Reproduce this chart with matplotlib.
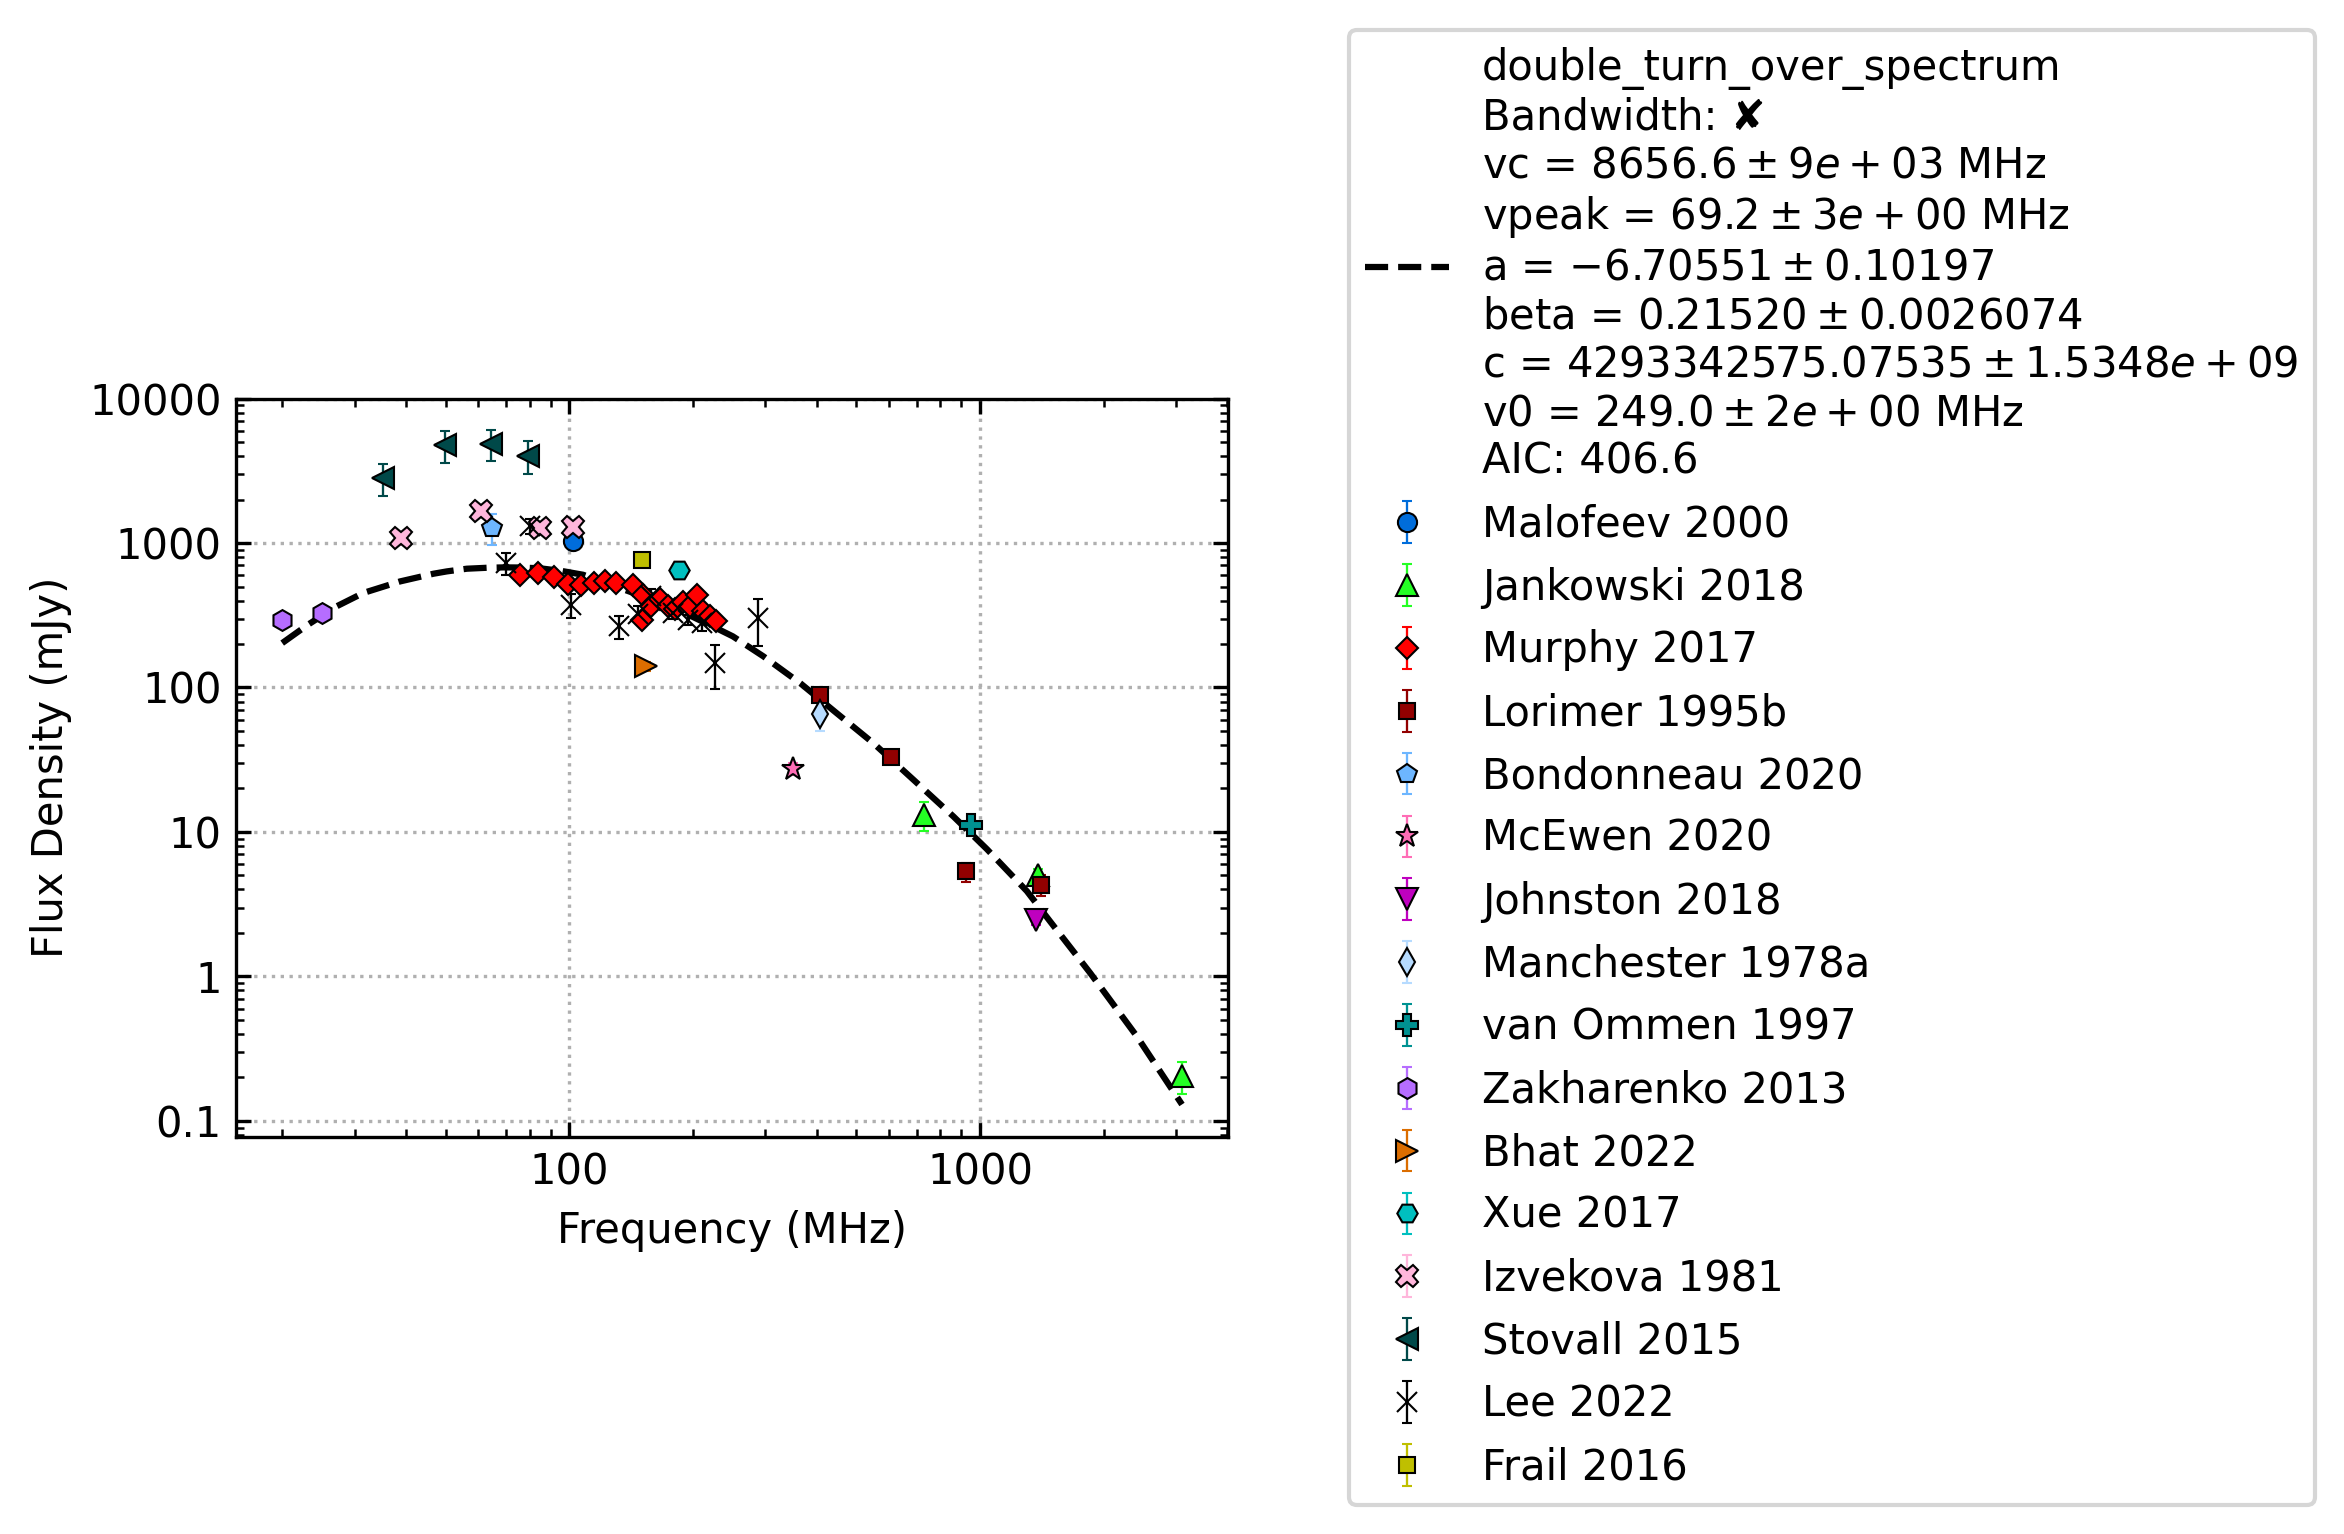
#!/usr/bin/env python3
"""Pulsar spectrum: literature flux densities with a double turn-over fit."""

import matplotlib

matplotlib.use("Agg")

import matplotlib.pyplot as plt
from matplotlib.ticker import FormatStrFormatter, NullFormatter

# flux density measurements: frequency (MHz), flux (mJy), error (mJy)
malofeev_freq = [102]
malofeev_flux = [1040]
malofeev_err = [150]

jankowski_freq = [728, 1382, 3100]
jankowski_flux = [13.1, 5.0, 0.204]
jankowski_err = [3.0, 0.5, 0.05]

murphy_freq = [76, 84, 92, 99, 107, 115, 122, 130, 143, 150, 151, 158, 166, 174,
               181, 189, 197, 204, 212, 220, 227]
murphy_flux = [597, 620, 578, 520, 514, 525, 542, 529, 514, 292, 434, 364, 410, 365,
               348, 390, 364, 440, 336, 312, 288]
murphy_err = [30, 30, 28, 25, 25, 25, 26, 25, 25, 15, 21, 18, 20, 18,
              17, 19, 18, 21, 16, 15, 14]

lorimer_freq = [408, 606, 925, 1408]
lorimer_flux = [89, 32.8, 5.34, 4.32]
lorimer_err = [9, 3, 0.8, 0.7]

bondonneau_freq = [65]
bondonneau_flux = [1280]
bondonneau_err = [310]

mcewen_freq = [350]
mcewen_flux = [27.3]
mcewen_err = [2.5]

johnston_freq = [1369]
johnston_flux = [2.46]
johnston_err = [0.2]

manchester_freq = [408]
manchester_flux = [65.6]
manchester_err = [16]

vanommen_freq = [950]
vanommen_flux = [11.1]
vanommen_err = [1.0]

zakharenko_freq = [20, 25]
zakharenko_flux = [295, 330]
zakharenko_err = [25, 28]

bhat_freq = [154]
bhat_flux = [140]
bhat_err = [10]

xue_freq = [185]
xue_flux = [653]
xue_err = [40]

izvekova_freq = [39, 61, 85, 102]
izvekova_flux = [1076, 1673, 1262, 1282]
izvekova_err = [100, 160, 120, 120]

stovall_freq = [35.1, 49.8, 64.5, 79.2]
stovall_flux = [2830, 4740, 4870, 4020]
stovall_err = [720, 1180, 1150, 1030]

lee_freq = [70, 80, 101, 132, 147, 158, 179, 195, 210, 226, 288]
lee_flux = [727, 1310, 374, 265, 325, 430, 330, 295, 278, 148, 303]
lee_err = [125, 160, 70, 47, 40, 47, 30, 25, 30, 50, 110]

frail_freq = [150]
frail_flux = [766]
frail_err = [70]

# fitted model curve
fit_freq = [20, 23.1, 27.1, 31.5, 38.7, 46.7, 50.3, 56.3, 63, 69, 76, 85, 96, 108,
            150, 190, 232, 250, 297, 365, 447, 549, 688, 861, 1039, 1299, 1481,
            1853, 2407, 3100]
fit_flux = [203, 272, 364, 451, 542, 613, 636, 664, 674, 678, 677, 668, 640, 603,
            430, 330, 251, 226, 164, 107, 66.6, 41.3, 23, 12.8, 7.6, 3.9, 2.4,
            1.057, 0.385, 0.13]

fit_label = "\n".join([
    "double_turn_over_spectrum",
    "Bandwidth: \u2718",
    r"vc = $8656.6 \pm 9e+03$ MHz",
    r"vpeak = $69.2 \pm 3e+00$ MHz",
    r"a = $-6.70551 \pm 0.10197$",
    r"beta = $0.21520 \pm 0.0026074$",
    r"c = $4293342575.07535 \pm 1.5348e+09$",
    r"v0 = $249.0 \pm 2e+00$ MHz",
    "AIC: 406.6",
])

# (label, freq, flux, err, colour, marker, markersize)
SERIES = [
    ("Malofeev 2000", malofeev_freq, malofeev_flux, malofeev_err, "#006ddb", "o", 4.6),
    ("Jankowski 2018", jankowski_freq, jankowski_flux, jankowski_err, "#24ff24", "^", 5.2),
    ("Murphy 2017", murphy_freq, murphy_flux, murphy_err, "red", "D", 3.8),
    ("Lorimer 1995b", lorimer_freq, lorimer_flux, lorimer_err, "#920000", "s", 3.9),
    ("Bondonneau 2020", bondonneau_freq, bondonneau_flux, bondonneau_err, "#6db6ff", "p", 4.8),
    ("McEwen 2020", mcewen_freq, mcewen_flux, mcewen_err, "#ff6db6", "*", 5.8),
    ("Johnston 2018", johnston_freq, johnston_flux, johnston_err, "m", "v", 5.2),
    ("Manchester 1978a", manchester_freq, manchester_flux, manchester_err, "#b6dbff", "d", 4.6),
    ("van Ommen 1997", vanommen_freq, vanommen_flux, vanommen_err, "#009292", "P", 5.2),
    ("Zakharenko 2013", zakharenko_freq, zakharenko_flux, zakharenko_err, "#b66dff", "h", 5.0),
    ("Bhat 2022", bhat_freq, bhat_flux, bhat_err, "#db6d00", ">", 5.2),
    ("Xue 2017", xue_freq, xue_flux, xue_err, "c", "H", 4.9),
    ("Izvekova 1981", izvekova_freq, izvekova_flux, izvekova_err, "#ffb6db", "X", 5.5),
    ("Stovall 2015", stovall_freq, stovall_flux, stovall_err, "#004949", "<", 5.2),
    ("Lee 2022", lee_freq, lee_flux, lee_err, "k", "x", 5.0),
    ("Frail 2016", frail_freq, frail_flux, frail_err, "y", "s", 4.0),
]


def main() -> None:
    fig = plt.figure(figsize=(2344 / 300, 1534 / 300), dpi=300)
    ax = fig.add_axes([0.1007, 0.2591, 0.4234, 0.4811])

    ax.plot(fit_freq, fit_flux, "k--", linewidth=1.5, label=fit_label)

    for label, freq, flux, err, color, marker, ms in SERIES:
        ax.errorbar(
            freq, flux, yerr=err, fmt=marker, color=color, markersize=ms,
            markeredgecolor="k", markeredgewidth=0.5, elinewidth=0.55,
            capsize=1.3, capthick=0.55, label=label,
        )

    ax.set_xscale("log")
    ax.set_yscale("log")
    ax.set_xlim(15.44, 4023)
    ax.set_ylim(0.078, 10000)
    ax.xaxis.set_major_formatter(FormatStrFormatter("%g"))
    ax.yaxis.set_major_formatter(FormatStrFormatter("%g"))
    ax.xaxis.set_minor_formatter(NullFormatter())
    ax.yaxis.set_minor_formatter(NullFormatter())
    ax.tick_params(which="both", direction="in", top=True, right=True)
    ax.grid(True, which="major", linestyle=":", color="#b0b0b0", linewidth=0.8)

    ax.set_xlabel("Frequency (MHz)")
    ax.set_ylabel("Flux Density (mJy)")
    ax.legend(loc="center left", bbox_to_anchor=(1.1, 0.5))

    fig.savefig("out.png", dpi=300)
    plt.close(fig)


if __name__ == "__main__":
    main()
